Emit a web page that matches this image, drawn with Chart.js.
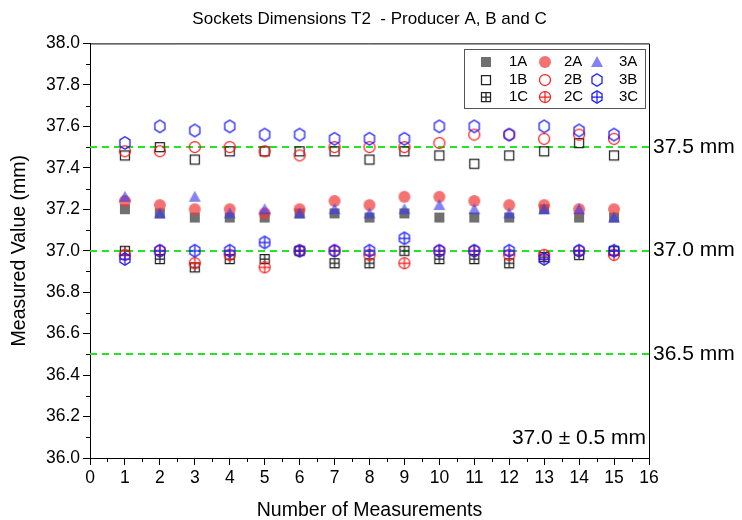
<!DOCTYPE html>
<html>
<head>
<meta charset="utf-8">
<script src="https://cdn.jsdelivr.net/npm/chart.js@4/dist/chart.umd.min.js"></script>
<style>
	html, body { margin: 0; padding: 0; background: #fff; }
</style>
</head>
<body>
<canvas id="chart" width="742" height="520"></canvas>
<script>
// measurement numbers on the x axis
var measurements = [1, 2, 3, 4, 5, 6, 7, 8, 9, 10, 11, 12, 13, 14, 15];

// producer A
var s1A = [37.20, 37.18, 37.16, 37.16, 37.16, 37.18, 37.18, 37.16, 37.18, 37.16, 37.16, 37.16, 37.20, 37.16, 37.16];
var s2A = [37.24, 37.22, 37.20, 37.20, 37.18, 37.20, 37.24, 37.22, 37.26, 37.26, 37.24, 37.22, 37.22, 37.20, 37.20];
var s3A = [37.26, 37.18, 37.26, 37.18, 37.20, 37.18, 37.20, 37.18, 37.20, 37.22, 37.20, 37.18, 37.20, 37.20, 37.16];
// producer B
var s1B = [37.46, 37.50, 37.44, 37.48, 37.48, 37.48, 37.48, 37.44, 37.48, 37.46, 37.42, 37.46, 37.48, 37.52, 37.46];
var s2B = [37.48, 37.48, 37.50, 37.50, 37.48, 37.46, 37.50, 37.50, 37.50, 37.52, 37.56, 37.56, 37.54, 37.56, 37.54];
var s3B = [37.52, 37.60, 37.58, 37.60, 37.56, 37.56, 37.54, 37.54, 37.54, 37.60, 37.60, 37.56, 37.60, 37.58, 37.56];
// producer C
var s1C = [37.00, 36.96, 36.92, 36.96, 36.96, 37.00, 36.94, 36.94, 37.00, 36.96, 36.96, 36.94, 36.97, 36.98, 37.00];
var s2C = [36.98, 37.00, 36.94, 36.98, 36.92, 37.00, 37.00, 36.98, 36.94, 37.00, 37.00, 36.98, 36.98, 37.00, 36.98];
var s3C = [36.96, 37.00, 37.00, 37.00, 37.04, 37.00, 37.00, 37.00, 37.06, 37.00, 37.00, 37.00, 36.96, 37.00, 37.00];

// tolerance lines and their labels
var limits = [37.5, 37.0, 36.5];
var limitLabels = ['37.5 mm', '37.0 mm', '36.5 mm'];

var FONT = "'Liberation Sans', Arial, sans-serif";

function marker(shape, fill, stroke, plus) {
	var c = document.createElement('canvas');
	c.width = 16; c.height = 16;
	var g = c.getContext('2d');
	g.lineWidth = 1.25;
	g.beginPath();
	if (shape == 'square') {
		if (fill) g.rect(3, 3, 10, 10); else g.rect(3.5, 3.5, 9, 9);
	} else if (shape == 'circle') {
		g.arc(8, 8, fill ? 6 : 5.5, 0, Math.PI * 2);
	} else if (shape == 'triangle') {
		g.moveTo(8, 2); g.lineTo(14, 13); g.lineTo(2, 13); g.closePath();
	} else if (shape == 'hexagon') {
		for (var k = 0; k < 6; k++) {
			var a = -Math.PI / 2 + k * Math.PI / 3;
			var px = 8 + 5.8 * Math.cos(a), py = 8 + 6.3 * Math.sin(a);
			if (k == 0) g.moveTo(px, py); else g.lineTo(px, py);
		}
		g.closePath();
	}
	if (fill) { g.fillStyle = fill; g.fill(); }
	if (stroke) { g.strokeStyle = stroke; g.stroke(); }
	if (plus) {
		g.beginPath();
		var h = shape == 'square' ? 4.5 : 5.5;
		g.moveTo(8, 8 - h); g.lineTo(8, 8 + h);
		g.moveTo(8 - h, 8); g.lineTo(8 + h, 8);
		g.strokeStyle = stroke; g.stroke();
	}
	return c;
}

var GREY = '#222222', RED = '#ff1a1a', BLUE = '#1a1aff';

var series = [
	{ label: '1A', values: s1A, style: marker('square', 'rgba(100,100,100,0.92)') },
	{ label: '2A', values: s2A, style: marker('circle', 'rgba(240,60,60,0.72)') },
	{ label: '3A', values: s3A, style: marker('triangle', 'rgba(55,55,235,0.62)') },
	{ label: '1B', values: s1B, style: marker('square', null, GREY) },
	{ label: '2B', values: s2B, style: marker('circle', null, RED) },
	{ label: '3B', values: s3B, style: marker('hexagon', null, BLUE) },
	{ label: '1C', values: s1C, style: marker('square', null, GREY, true) },
	{ label: '2C', values: s2C, style: marker('circle', null, RED, true) },
	{ label: '3C', values: s3C, style: marker('hexagon', null, BLUE, true) }
];

var datasets = series.map(function(s, i) {
	return {
		label: s.label,
		data: measurements.map(function(m, j) { return { x: m, y: s.values[j] }; }),
		pointStyle: s.style,
		pointRadius: 6,
		showLine: false,
		order: 20 - i
	};
});

var extras = {
	id: 'extras',
	beforeDatasetsDraw: function(chart) {
		var ctx = chart.ctx, a = chart.chartArea, y = chart.scales.y;
		ctx.save();
		ctx.strokeStyle = '#22e622';
		ctx.lineWidth = 2;
		ctx.setLineDash([7, 5]);
		limits.forEach(function(v) {
			var py = Math.round(y.getPixelForValue(v));
			ctx.beginPath(); ctx.moveTo(a.left, py); ctx.lineTo(a.right, py); ctx.stroke();
		});
		ctx.restore();
	},
	afterDraw: function(chart) {
		var ctx = chart.ctx, a = chart.chartArea, x = chart.scales.x, y = chart.scales.y;
		ctx.save();
		// frame top and right
		ctx.strokeStyle = '#000';
		ctx.lineWidth = 1;
		ctx.beginPath();
		ctx.moveTo(a.left, a.top + 0.5); ctx.lineTo(a.right + 0.5, a.top + 0.5); ctx.lineTo(a.right + 0.5, a.bottom);
		ctx.stroke();
		// minor ticks
		ctx.beginPath();
		for (var v = 36.1; v < 38; v += 0.2) {
			var py = Math.round(y.getPixelForValue(v)) + 0.5;
			ctx.moveTo(a.left - 4, py); ctx.lineTo(a.left, py);
		}
		for (var u = 0.5; u < 16; u += 1) {
			var px = Math.round(x.getPixelForValue(u)) + 0.5;
			ctx.moveTo(px, a.bottom); ctx.lineTo(px, a.bottom + 4);
		}
		ctx.stroke();
		// tolerance labels
		ctx.fillStyle = '#000';
		ctx.font = '21px ' + FONT;
		ctx.textBaseline = 'middle';
		ctx.textAlign = 'left';
		limits.forEach(function(v, i) {
			ctx.fillText(limitLabels[i], a.right + 4, y.getPixelForValue(v));
		});
		ctx.textAlign = 'right';
		ctx.fillText('37.0 \u00b1 0.5 mm', a.right - 3, a.bottom - 20);
		// legend
		var lx = 464, ly = 49, lw = 181, lh = 59;
		ctx.fillStyle = '#fff';
		ctx.fillRect(lx, ly, lw, lh);
		ctx.strokeStyle = '#555';
		ctx.strokeRect(lx + 0.5, ly + 0.5, lw, lh);
		ctx.font = '15px ' + FONT;
		ctx.textAlign = 'left';
		ctx.fillStyle = '#000';
		var colMark = [486, 545, 597], colText = [509, 564, 619], rows = [62, 80, 97];
		series.forEach(function(s, i) {
			var col = i % 3, row = Math.floor(i / 3);
			ctx.drawImage(s.style, colMark[col] - 8, rows[row] - 8);
			ctx.fillText(s.label, colText[col], rows[row]);
		});
		ctx.restore();
	}
};

new Chart(document.getElementById('chart'), {
	type: 'scatter',
	data: { datasets: datasets },
	options: {
		responsive: false,
		animation: false,
		layout: { padding: { top: 0, right: 93, bottom: 0, left: 0 } },
		plugins: {
			legend: { display: false },
			tooltip: { enabled: false },
			title: {
				display: true,
				text: 'Sockets Dimensions T2  - Producer A, B and C',
				fullSize: false,
				color: '#000',
				font: { family: FONT, size: 17, weight: 'normal' },
				padding: { top: 9, bottom: 14 }
			}
		},
		scales: {
			x: {
				type: 'linear', min: 0, max: 16,
				afterFit: function(s) { s.height = 62; },
				ticks: { stepSize: 1, color: '#000', font: { family: FONT, size: 17.5 }, padding: 3 },
				grid: { drawOnChartArea: false, tickLength: 7, color: '#000' },
				border: { color: '#000', width: 1 },
				title: { display: true, text: 'Number of Measurements', color: '#000', font: { family: FONT, size: 19.5, lineHeight: 1 }, padding: 0 }
			},
			y: {
				type: 'linear', min: 36, max: 38,
				afterFit: function(s) { s.width = 90; },
				ticks: { stepSize: 0.2, color: '#000', font: { family: FONT, size: 17.5 }, padding: 3,
					callback: function(v) { return v.toFixed(1); } },
				grid: { drawOnChartArea: false, tickLength: 7, color: '#000' },
				border: { color: '#000', width: 1 },
				title: { display: true, text: 'Measured Value (mm)', color: '#000', font: { family: FONT, size: 19.5 }, padding: { top: 8, bottom: 0 } }
			}
		}
	},
	plugins: [extras]
});
</script>
</body>
</html>
